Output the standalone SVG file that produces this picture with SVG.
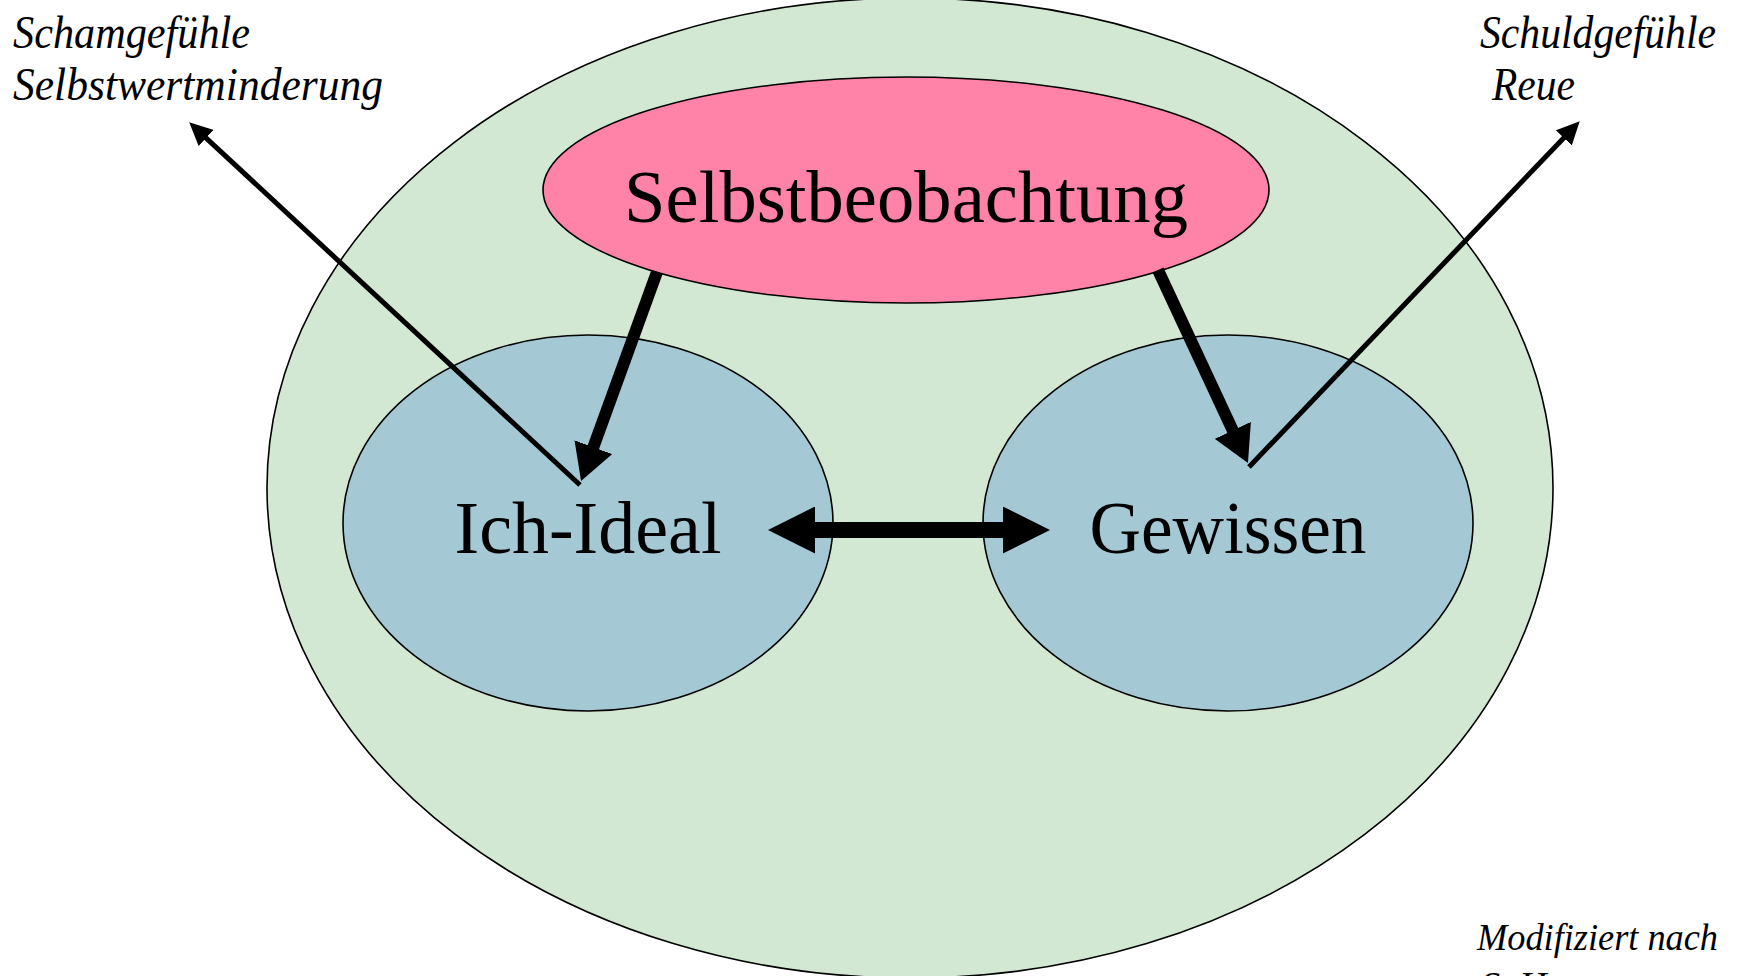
<svg xmlns="http://www.w3.org/2000/svg" width="1740" height="976" viewBox="0 0 1740 976">
  <style>
    .node { stroke: #000; stroke-width: 1.6; }
    .big { font-family: "Liberation Serif", "Times New Roman", serif; font-size: 75px; fill: #000; text-anchor: middle; }
    .note { font-family: "Liberation Serif", "Times New Roman", serif; font-style: italic; font-size: 46px; fill: #000; }
    .src { font-family: "Liberation Serif", "Times New Roman", serif; font-style: italic; font-size: 38px; fill: #000; }
    .thin { stroke: #000; stroke-width: 5; fill: none; }
    .mid { stroke: #000; stroke-width: 12; fill: none; }
    .wide { stroke: #000; stroke-width: 16; fill: none; }
  </style>
  <defs>
    <marker id="hThin" markerUnits="userSpaceOnUse" markerWidth="24" markerHeight="22" refX="12" refY="11" orient="auto">
      <path d="M0,0 L23,11 L0,22 z" fill="#000"/>
    </marker>
    <marker id="hMid" markerUnits="userSpaceOnUse" markerWidth="37" markerHeight="40" refX="20" refY="20" orient="auto">
      <path d="M0,0 L36,20 L0,40 z" fill="#000"/>
    </marker>
    <marker id="hWide" markerUnits="userSpaceOnUse" markerWidth="48" markerHeight="47" refX="27" refY="23.5" orient="auto-start-reverse">
      <path d="M0,0 L47,23.5 L0,47 z" fill="#000"/>
    </marker>
  </defs>
  <rect width="1740" height="976" fill="#fff"/>

  <g id="ueber-ich">
    <ellipse class="node" cx="910" cy="488" rx="643" ry="490" fill="#d3e8d3"/>
  </g>

  <g id="selbstbeobachtung">
    <ellipse class="node" cx="906" cy="190" rx="363" ry="113" fill="#ff82a9"/>
    <text class="big" x="906" y="222" textLength="564" lengthAdjust="spacingAndGlyphs">Selbstbeobachtung</text>
  </g>

  <g id="ich-ideal">
    <ellipse class="node" cx="588" cy="523" rx="245" ry="188" fill="#a4c8d4"/>
    <text class="big" x="588" y="553" textLength="267" lengthAdjust="spacingAndGlyphs">Ich-Ideal</text>
  </g>

  <g id="gewissen">
    <ellipse class="node" cx="1228" cy="523" rx="245" ry="188" fill="#a4c8d4"/>
    <text class="big" x="1228" y="553" textLength="277" lengthAdjust="spacingAndGlyphs">Gewissen</text>
  </g>

  <g id="connectors">
    <line class="mid" x1="657" y1="272" x2="586.5" y2="466" marker-end="url(#hMid)"/>
    <line class="mid" x1="1158" y1="270" x2="1241.2" y2="448.5" marker-end="url(#hMid)"/>
    <line class="wide" x1="788" y1="530" x2="1030" y2="530" marker-start="url(#hWide)" marker-end="url(#hWide)"/>
    <line class="thin" x1="580" y1="485" x2="197.3" y2="129.8" marker-end="url(#hThin)"/>
    <line class="thin" x1="1249" y1="467" x2="1572.1" y2="129.2" marker-end="url(#hThin)"/>
  </g>

  <g id="label-scham">
    <text class="note" x="13" y="48" textLength="237" lengthAdjust="spacingAndGlyphs">Schamgefühle</text>
    <text class="note" x="13" y="100" textLength="370" lengthAdjust="spacingAndGlyphs">Selbstwertminderung</text>
  </g>

  <g id="label-schuld">
    <text class="note" x="1480" y="48" textLength="236" lengthAdjust="spacingAndGlyphs">Schuldgefühle</text>
    <text class="note" x="1492" y="100" textLength="83" lengthAdjust="spacingAndGlyphs">Reue</text>
  </g>

  <g id="label-quelle">
    <text class="src" x="1477" y="950" textLength="241" lengthAdjust="spacingAndGlyphs">Modifiziert nach</text>
    <text class="src" x="1481" y="998">S. H</text>
  </g>
</svg>
